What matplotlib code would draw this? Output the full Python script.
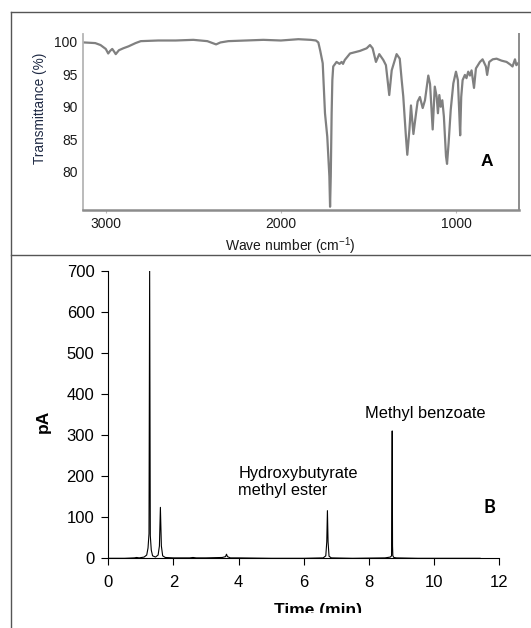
import matplotlib
matplotlib.use("Agg")
import matplotlib.pyplot as plt
from matplotlib.lines import Line2D
from matplotlib.transforms import Bbox, TransformedBbox

plt.rcParams['font.family'] = ['Liberation Sans', 'DejaVu Sans']
plt.rcParams['mathtext.default'] = 'regular'

# IR spectrum (panel A)
ir_wn = [3125, 3060, 3030, 3000, 2986, 2975, 2963, 2950, 2943, 2925,
         2900, 2870, 2830, 2800, 2700, 2600, 2500, 2420, 2390, 2370,
         2345, 2300, 2200, 2100, 2000, 1900, 1830, 1800, 1786, 1775,
         1761, 1748, 1735, 1723, 1719, 1715, 1710, 1706, 1701, 1690,
         1682, 1665, 1653, 1645, 1635, 1605, 1548, 1510, 1491, 1476,
         1457, 1438, 1415, 1400, 1381, 1367, 1339, 1321, 1310, 1301,
         1286, 1278, 1266, 1257, 1243, 1228, 1219, 1206, 1190, 1177,
         1158, 1148, 1133, 1121, 1110, 1103, 1095, 1087, 1078, 1069,
         1057, 1051, 1042, 1030, 1015, 1000, 989, 981, 976, 970,
         962, 949, 940, 930, 920, 911, 897, 886, 863, 848,
         829, 822, 810, 790, 768, 740, 711, 690, 677, 663,
         655, 645]
ir_t = [99.9, 99.8, 99.5, 98.9, 98.2, 98.6, 98.9, 98.4, 98.1, 98.7,
        99.0, 99.3, 99.8, 100.1, 100.2, 100.2, 100.3, 100.1, 99.8, 99.6,
        99.9, 100.1, 100.2, 100.3, 100.2, 100.4, 100.3, 100.2, 99.9, 98.6,
        96.7, 89.0, 85.4, 79.3, 74.6, 79.3, 89.0, 94.1, 96.2, 96.6,
        96.9, 96.6, 96.9, 96.6, 97.2, 98.2, 98.6, 99.0, 99.5, 99.0,
        96.9, 98.1, 97.2, 96.4, 91.8, 95.6, 98.1, 97.4, 94.1, 91.6,
        85.5, 82.6, 86.4, 90.2, 85.8, 89.0, 90.8, 91.5, 89.8, 91.0,
        94.8, 93.5, 86.5, 93.1, 91.5, 89.0, 91.8, 90.0, 91.0, 88.5,
        82.4, 81.2, 84.4, 89.5, 93.6, 95.4, 94.1, 89.0, 85.6, 91.5,
        94.1, 94.9, 94.4, 95.4, 94.8, 95.6, 92.9, 95.9, 96.9, 97.3,
        96.2, 94.9, 96.9, 97.3, 97.4, 97.1, 96.9, 96.5, 96.2, 97.3,
        96.4, 96.7]
ir_xticks = [3000, 2000, 1000]
ir_yticks = [80, 85, 90, 95, 100]

# GC chromatogram (panel B)
gc_time = [0.02, 0.5, 0.8, 0.87, 0.95, 1.1, 1.18, 1.22, 1.25, 1.27,
           1.29, 1.32, 1.36, 1.45, 1.53, 1.57, 1.60, 1.63, 1.67, 1.75,
           2.0, 2.5, 2.6, 2.7, 3.0, 3.5, 3.6, 3.63, 3.66, 3.75,
           4.0, 5.0, 6.0, 6.6, 6.68, 6.71, 6.73, 6.75, 6.78, 6.85,
           7.5, 8.5, 8.66, 8.7, 8.72, 8.73, 8.74, 8.77, 8.85, 9.5,
           10.5, 11.42]
gc_pa = [0, 0, 1, 2, 1, 3, 8, 25, 60, 700,
         55, 20, 6, 3, 8, 30, 124, 30, 6, 2,
         1, 1, 2, 1, 1, 2, 4, 10, 4, 1,
         1, 0, 0, 1, 6, 40, 116, 40, 5, 1,
         0, 1, 3, 6, 310, 30, 6, 2, 1, 0,
         0, 0]
gc_xticks = [0, 2, 4, 6, 8, 10, 12]
gc_yticks = [0, 100, 200, 300, 400, 500, 600, 700]

W, H = 531, 628
fig = plt.figure(figsize=(W / 100, H / 100), dpi=100)


def fx(px):
    return px / W


def fy(py):
    return 1 - py / H


# ---- panel A ----
ax1 = fig.add_axes([fx(83), fy(210), fx(519 - 83), (210 - 34) / H])
ax1.plot(ir_wn, ir_t, color='#808080', lw=1.6)
ax1.set_xlim(3130, 640)
ax1.set_ylim(74.1, 101.2)
ax1.set_xticks(ir_xticks)
ax1.set_yticks(ir_yticks)
ax1.tick_params(axis='y', length=0, pad=4, labelsize=10, labelcolor='#1a1a1a')
ax1.tick_params(axis='x', length=2, color='#bbbbbb', pad=3, labelsize=10,
                labelcolor='#1a1a1a')
ax1.spines['top'].set_visible(False)
ax1.spines['left'].set_color('#b5b5b5')
ax1.spines['left'].set_linewidth(1.3)
ax1.spines['bottom'].set_color('#8c8c8c')
ax1.spines['bottom'].set_linewidth(1.8)
ax1.spines['right'].set_color('#8c8c8c')
ax1.spines['right'].set_linewidth(1.4)
ax1.text(823, 81.6, 'A', ha='center', va='center', fontsize=12.5,
         fontweight='bold')
fig.text(fx(40), fy(108), 'Transmittance (%)', rotation=90, ha='center',
         va='center', fontsize=9.8, color='#1f2a44')
fig.text(fx(290), fy(246), 'Wave number (cm$^{-1}$)', ha='center',
         va='center', fontsize=10, color='#1a1a1a')

# ---- panel B ----
ax2 = fig.add_axes([fx(108.3), fy(558.3), fx(499 - 108.3), (558.3 - 270.7) / H])
ax2.plot(gc_time, gc_pa, color='black', lw=0.8)
ax2.set_xlim(0, 12)
ax2.set_ylim(0, 700)
ax2.set_xticks(gc_xticks)
ax2.set_yticks(gc_yticks)
ax2.tick_params(axis='y', length=5, width=0.8, pad=5, labelsize=12)
ax2.tick_params(axis='x', length=5, width=0.8, pad=7, labelsize=12)
for s in ['top', 'right']:
    ax2.spines[s].set_visible(False)
for s in ['left', 'bottom']:
    ax2.spines[s].set_linewidth(0.8)
ax2.text(3.99, 186, 'Hydroxybutyrate\nmethyl ester', ha='left', va='center',
         fontsize=11.8, linespacing=1.15)
ax2.text(7.88, 353, 'Methyl benzoate', ha='left', va='center', fontsize=11.8)
ax2.text(11.72, 124, 'B', ha='center', va='center', fontsize=13,
         fontweight='bold', family=['Lato', 'DejaVu Sans'])
fig.text(fx(43), fy(421.7), 'pA', rotation=90, ha='center', va='center',
         fontsize=12.5, fontweight='bold')
tl = fig.text(fx(318), fy(615), 'Time (min)', ha='center', va='baseline',
              fontsize=12.5, fontweight='bold')
tl.set_clip_box(TransformedBbox(Bbox([[0, fy(613)], [1, 1]]), fig.transFigure))

# panel frame lines
frame = dict(color='#555555', lw=1.0, transform=fig.transFigure)
fig.add_artist(Line2D([fx(11), fx(11)], [fy(12), 0], **frame))
fig.add_artist(Line2D([fx(11), 1], [fy(12), fy(12)], **frame))
fig.add_artist(Line2D([fx(11), 1], [fy(255), fy(255)], **frame))

fig.savefig("out.png", dpi=100)
